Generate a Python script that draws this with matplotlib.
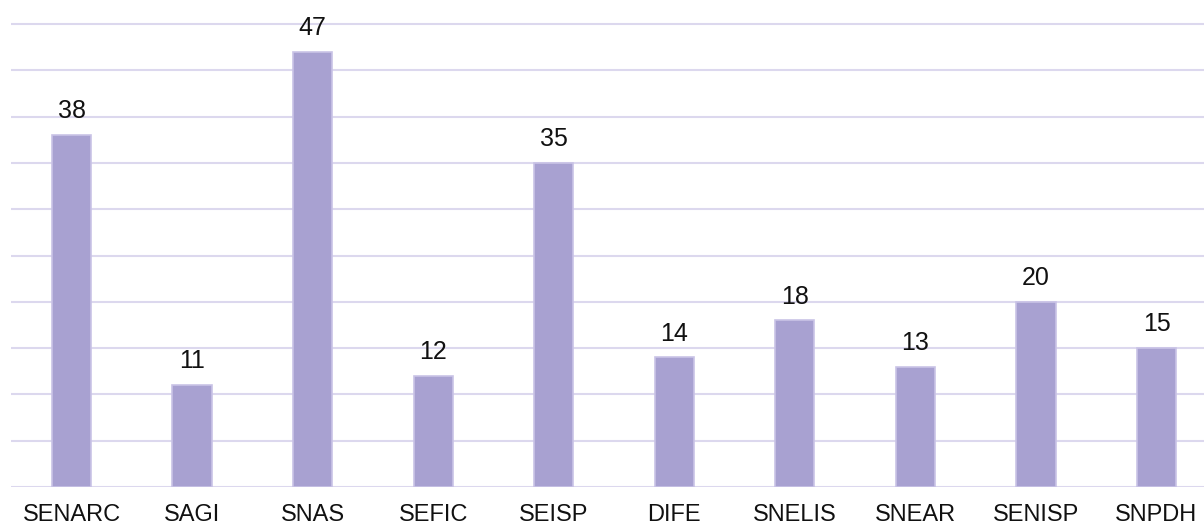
import matplotlib
matplotlib.use("Agg")
import matplotlib.pyplot as plt

# data
categories = ["SENARC", "SAGI", "SNAS", "SEFIC", "SEISP", "DIFE", "SNELIS", "SNEAR", "SENISP", "SNPDH"]
counts = [38, 11, 47, 12, 35, 14, 18, 13, 20, 15]
grid_ticks = [0, 5, 10, 15, 20, 25, 30, 35, 40, 45, 50]

W, H = 1204, 524
fig = plt.figure(figsize=(W / 100, H / 100), dpi=100)
ax = fig.add_axes([11 / W, 37 / H, 1193 / W, 487 / H])

x = list(range(len(categories)))
bars = ax.bar(x, counts, width=0.325, color="#a8a1d1", edgecolor="#c9c3e6", linewidth=1.2, zorder=3)

# value labels above the bars
for rect, v in zip(bars, counts):
    ax.annotate(str(v), (rect.get_x() + rect.get_width() / 2, v),
                xytext=(0, 8.5), textcoords="offset points",
                ha="center", va="bottom", fontsize=18, family="Liberation Sans", color="#111111")

ax.set_xlim(-0.502, 9.394)
ax.set_ylim(0, 52.6)
ax.set_yticks(grid_ticks)
ax.yaxis.grid(True, color="#dcd8ee", linewidth=1.5, zorder=0)
ax.tick_params(axis="y", left=False, labelleft=False)
ax.set_xticks(x)
ax.set_xticklabels(categories, fontsize=17, family="Liberation Sans", color="#111111")
ax.tick_params(axis="x", length=0, pad=12)
for s in ax.spines.values():
    s.set_visible(False)

fig.savefig("out.png", dpi=100)
